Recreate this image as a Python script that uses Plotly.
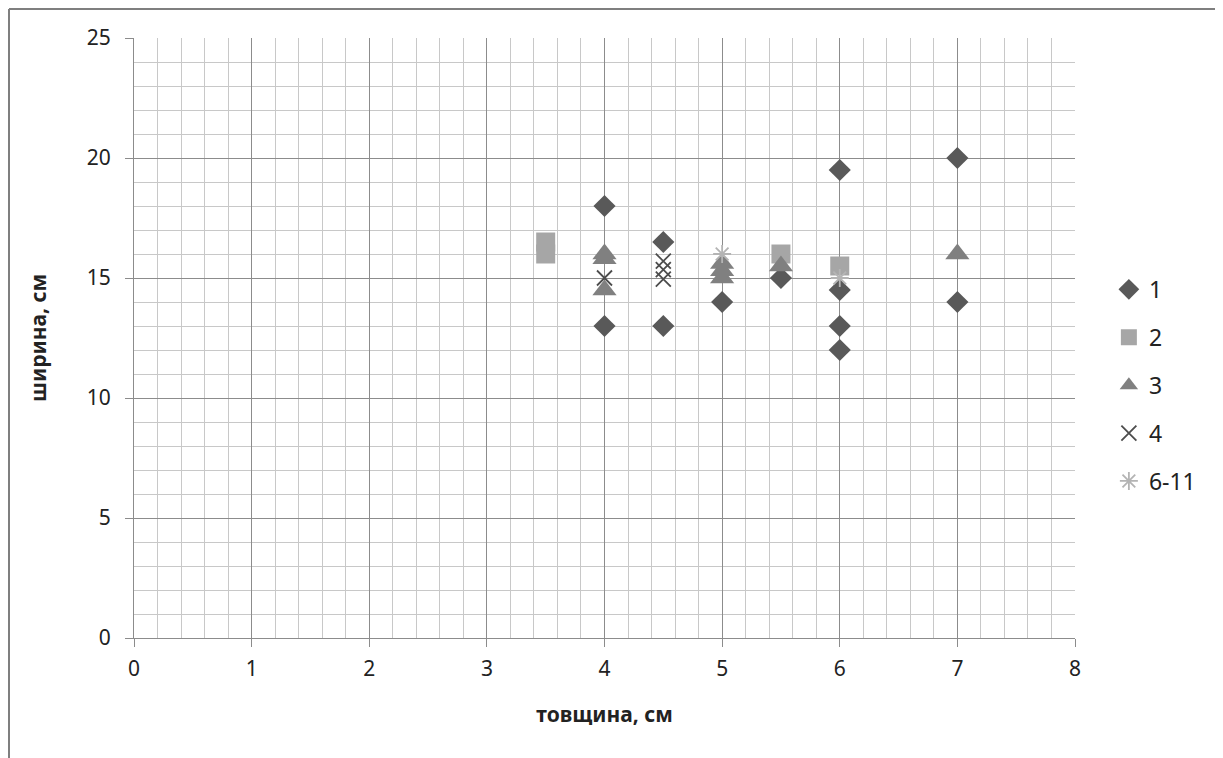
import plotly.graph_objects as go

# Series data (товщина, см  ->  ширина, см)
s1_x = [4, 4, 4.5, 4.5, 5, 5.5, 6, 6, 6, 6, 7, 7]
s1_y = [18, 13, 16.5, 13, 14, 15, 19.5, 14.5, 13, 12, 20, 14]

s2_x = [3.5, 3.5, 5.5, 6]
s2_y = [16.5, 16, 16, 15.5]

s3_x = [4, 4, 4, 5, 5, 5, 5.5, 7]
s3_y = [16, 15.8, 14.5, 15.6, 15.3, 15, 15.5, 16]

s4_x = [4, 4.5, 4.5, 4.5]
s4_y = [15, 15.7, 15.35, 14.95]

s5_x = [5, 6]
s5_y = [16, 15]

names = ["1", "2", "3", "4", "6-11"]

FONT = "Noto Sans"

# page body has an 8px margin in the browser; compensate
L, T, PW, PH = 126, 30, 941, 600


def px_x(page_x):
    return (page_x - (L + 8)) / PW


def px_y(page_y):
    return ((T + 8 + PH) - page_y) / PH


fig = go.Figure()
fig.add_trace(go.Scatter(x=s1_x, y=s1_y, mode="markers", name=names[0], legendgroup="a",
                         marker=dict(symbol="diamond", size=17, color="#595959")))
fig.add_trace(go.Scatter(x=s2_x, y=s2_y, mode="markers", name=names[1], legendgroup="b",
                         marker=dict(symbol="square", size=19, color="#a6a6a6")))
fig.add_trace(go.Scatter(x=s3_x, y=s3_y, mode="markers", name=names[2], legendgroup="c",
                         marker=dict(symbol="triangle-up", size=21, color="#808080")))
fig.add_trace(go.Scatter(x=s4_x, y=s4_y, mode="markers", name=names[3], legendgroup="d",
                         marker=dict(symbol="x-thin-open", size=15, color="#4d4d4d",
                                     line=dict(width=1.8, color="#4d4d4d"))))
fig.add_trace(go.Scatter(x=s5_x, y=s5_y, mode="markers", name=names[4], legendgroup="e",
                         marker=dict(symbol="asterisk-open", size=15, color="#b4b4b4",
                                     line=dict(width=1.8, color="#b4b4b4"))))

frame = dict(color="#7f7f7f", width=2)
fig.update_layout(
    width=1223, height=758,
    margin=dict(l=L, r=1223 - L - PW, t=T, b=758 - T - PH),
    paper_bgcolor="white", plot_bgcolor="white",
    font=dict(family=FONT, size=21, color="#222222"),
    legend=dict(x=1.036, xanchor="left", y=0.421, yanchor="middle",
                font=dict(size=23), tracegroupgap=15, traceorder="grouped",
                itemsizing="trace", itemwidth=30, bgcolor="rgba(0,0,0,0)"),
    xaxis=dict(range=[0, 8], dtick=1, tick0=0,
               showgrid=True, gridcolor="#8c8c8c", gridwidth=1,
               minor=dict(dtick=0.2, showgrid=True, gridcolor="#c8c8c8", gridwidth=1),
               showline=True, linecolor="#8c8c8c", linewidth=1,
               ticks="outside", ticklen=8, tickcolor="#8c8c8c",
               zeroline=False, ticklabelstandoff=4,
               title=dict(text="<b>товщина, см</b>", font=dict(size=21, family=FONT), standoff=26)),
    yaxis=dict(range=[0, 25], dtick=5, tick0=0,
               showgrid=True, gridcolor="#8c8c8c", gridwidth=1,
               minor=dict(dtick=1, showgrid=True, gridcolor="#c8c8c8", gridwidth=1),
               showline=True, linecolor="#8c8c8c", linewidth=1,
               ticks="outside", ticklen=8, tickcolor="#8c8c8c",
               zeroline=False, ticklabelstandoff=10,
               title=dict(text="<b>ширина, см</b>", font=dict(size=21, family=FONT), standoff=34)),
    shapes=[
        dict(type="line", xref="paper", yref="paper", x0=px_x(9), x1=px_x(9),
             y0=px_y(9), y1=px_y(790), line=frame, layer="above"),
        dict(type="line", xref="paper", yref="paper", x0=px_x(9), x1=px_x(1219),
             y0=px_y(9), y1=px_y(9), line=frame, layer="above"),
        dict(type="line", xref="paper", yref="paper", x0=px_x(1219), x1=px_x(1219),
             y0=px_y(9), y1=px_y(790), line=frame, layer="above"),
    ],
)

fig.write_html("out.html")
